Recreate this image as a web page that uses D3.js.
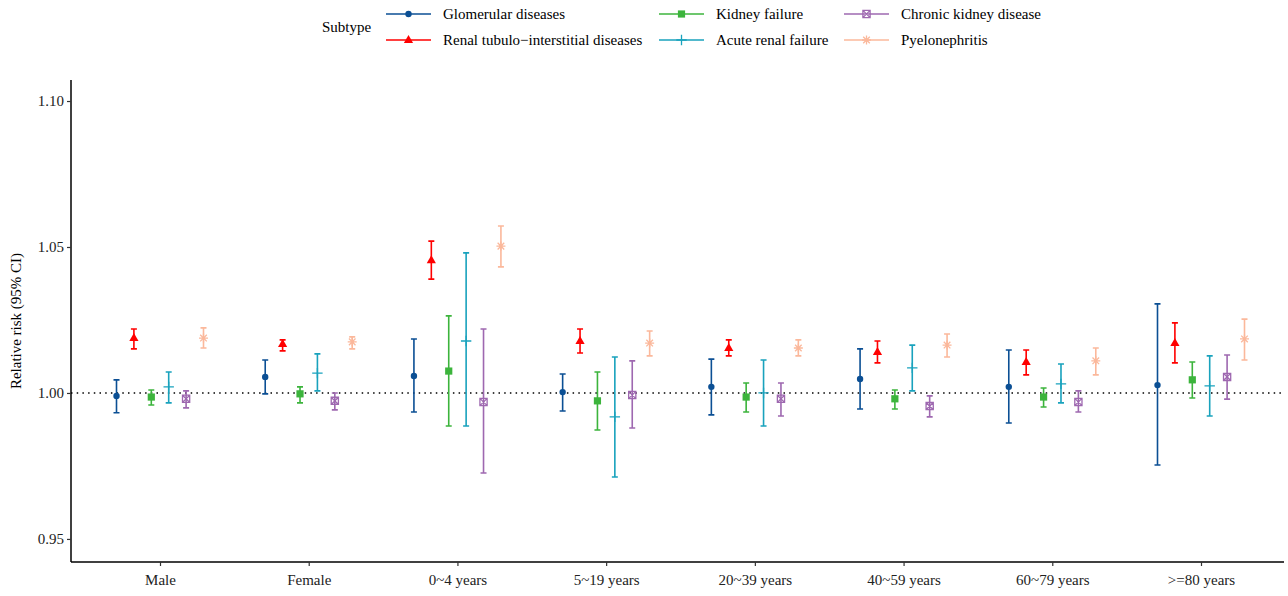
<!DOCTYPE html>
<html>
<head>
<meta charset="utf-8">
<script src="https://cdn.jsdelivr.net/npm/d3@7"></script>
<style>
  body { margin: 0; background: #fff; }
  text { font-family: "Liberation Serif", "Times New Roman", serif; fill: #000; }
</style>
</head>
<body>
<svg id="chart" width="1288" height="596"></svg>
<script>
// categories on the x axis
const categories = ['Male', 'Female', '0~4 years', '5~19 years', '20~39 years', '40~59 years', '60~79 years', '>=80 years'];

// subtypes (legend order = dodge order)
const subtypes = ['Glomerular diseases', 'Renal tubulo\u2212interstitial diseases', 'Kidney failure',
                  'Acute renal failure', 'Chronic kidney disease', 'Pyelonephritis'];

// [estimate, lower, upper] per category
const glomerular = [[0.9990, 0.9932, 1.0045], [1.0055, 0.9997, 1.0113], [1.0058, 0.9935, 1.0185], [1.0003, 0.9938, 1.0065],
                    [1.0021, 0.9925, 1.0116], [1.0048, 0.9945, 1.0151], [1.0021, 0.9897, 1.0147], [1.0027, 0.9753, 1.0305]];
const tubulo     = [[1.0188, 1.0151, 1.0219], [1.0168, 1.0144, 1.0182], [1.0455, 1.0390, 1.0520], [1.0178, 1.0137, 1.0219],
                    [1.0154, 1.0127, 1.0182], [1.0140, 1.0103, 1.0178], [1.0106, 1.0062, 1.0147], [1.0171, 1.0103, 1.0240]];
const kidneyFail = [[0.9986, 0.9959, 1.0010], [0.9997, 0.9966, 1.0021], [1.0075, 0.9887, 1.0264], [0.9973, 0.9873, 1.0072],
                    [0.9986, 0.9935, 1.0034], [0.9980, 0.9945, 1.0010], [0.9986, 0.9952, 1.0017], [1.0045, 0.9983, 1.0106]];
const acuteFail  = [[1.0021, 0.9966, 1.0072], [1.0068, 1.0007, 1.0134], [1.0178, 0.9887, 1.0480], [0.9918, 0.9712, 1.0123],
                    [1.0000, 0.9887, 1.0113], [1.0086, 1.0007, 1.0164], [1.0031, 0.9966, 1.0099], [1.0024, 0.9921, 1.0127]];
const chronic    = [[0.9980, 0.9949, 1.0007], [0.9973, 0.9942, 1.0000], [0.9969, 0.9726, 1.0219], [0.9993, 0.9880, 1.0110],
                    [0.9980, 0.9921, 1.0034], [0.9955, 0.9918, 0.9990], [0.9969, 0.9935, 1.0007], [1.0055, 0.9979, 1.0130]];
const pyelo      = [[1.0188, 1.0154, 1.0223], [1.0175, 1.0151, 1.0192], [1.0503, 1.0432, 1.0572], [1.0171, 1.0127, 1.0212],
                    [1.0154, 1.0127, 1.0182], [1.0164, 1.0123, 1.0202], [1.0110, 1.0062, 1.0154], [1.0185, 1.0113, 1.0253]];

const yTicks = [0.95, 1.00, 1.05, 1.10];

const seriesValues = [glomerular, tubulo, kidneyFail, acuteFail, chronic, pyelo];
const colors = ['#0b4f94', '#ff0000', '#3cb43c', '#19a2bd', '#9e68b0', '#fbb89b'];
const shapes = ['circle', 'triangle', 'square', 'plus', 'squarecross', 'asterisk'];

// flatten into rows for drawing
const rows = [];
seriesValues.forEach((vals, s) => {
    vals.forEach((v, c) => rows.push({ s, cat: categories[c], est: v[0], lo: v[1], hi: v[2] }));
});

const svg = d3.select('#chart');
const panel = { left: 71, right: 1284, top: 80, bottom: 562 };
const fontSize = 15;

const x = d3.scalePoint().domain(categories).range([160, 1201]);
const dodge = d3.scalePoint().domain(d3.range(subtypes.length)).range([-43.5, 43.5]);
const y = d3.scaleLinear().domain([0.9421, 1.1072]).range([panel.bottom, panel.top]);

// reference line at 1
svg.append('line')
    .attr('x1', panel.left).attr('x2', panel.right)
    .attr('y1', y(1)).attr('y2', y(1))
    .attr('stroke', '#000').attr('stroke-width', 1.4)
    .attr('stroke-dasharray', '1.5,4.2');

// marker paths
function markerPath(shape) {
    switch (shape) {
        case 'triangle': return 'M0,-5L4.6,3L-4.6,3Z';
        case 'square': return 'M-3.6,-3.6H3.6V3.6H-3.6Z';
        case 'plus': return 'M-5.2,0H5.2M0,-5.2V5.2';
        case 'squarecross': return 'M-3.6,-3.6H3.6V3.6H-3.6ZM-3.6,-3.6L3.6,3.6M3.6,-3.6L-3.6,3.6';
        case 'asterisk': return 'M-4.5,0H4.5M0,-4.5V4.5M-3.3,-3.3L3.3,3.3M3.3,-3.3L-3.3,3.3';
        default: return null;
    }
}

function drawMarker(g, s) {
    const col = colors[s];
    if (shapes[s] === 'circle') {
        g.append('circle').attr('r', 3.2).attr('fill', col);
    } else if (shapes[s] === 'triangle' || shapes[s] === 'square') {
        g.append('path').attr('d', markerPath(shapes[s])).attr('fill', col);
    } else {
        g.append('path').attr('d', markerPath(shapes[s]))
            .attr('fill', 'none').attr('stroke', col).attr('stroke-width', 1.3);
    }
}

// error bars + points
const cap = 3;
const marks = svg.append('g').selectAll('g.mark')
    .data(rows).enter()
    .append('g').attr('class', 'mark')
    .attr('transform', d => `translate(${x(d.cat) + dodge(d.s)},0)`);

marks.append('path')
    .attr('d', d => `M0,${y(d.lo)}V${y(d.hi)}M${-cap},${y(d.lo)}H${cap}M${-cap},${y(d.hi)}H${cap}`)
    .attr('stroke', d => colors[d.s]).attr('stroke-width', 1.6).attr('fill', 'none');

marks.each(function (d) {
    const g = d3.select(this).append('g').attr('transform', `translate(0,${y(d.est)})`);
    drawMarker(g, d.s);
});

// axes
const yAxis = svg.append('g')
    .attr('transform', `translate(${panel.left},0)`)
    .call(d3.axisLeft(y).tickValues(yTicks).tickFormat(d3.format('.2f')).tickSizeOuter(0).tickSize(4));
yAxis.select('.domain').attr('d', `M0,${panel.top}V${panel.bottom}`);

const xAxis = svg.append('g')
    .attr('transform', `translate(0,${panel.bottom})`)
    .call(d3.axisBottom(x).tickSizeOuter(0).tickSize(4));
xAxis.select('.domain').attr('d', `M${panel.left},0H${panel.right}`);

svg.selectAll('.domain').attr('stroke', '#000').attr('stroke-width', 1.5);
svg.selectAll('.tick line').attr('stroke', '#333').attr('stroke-width', 1.2);
yAxis.selectAll('.tick text').attr('font-size', fontSize).attr('x', -7).style('fill', '#222');
xAxis.selectAll('.tick text').attr('font-size', fontSize).attr('y', 12).style('fill', '#222');

// y title
svg.append('text')
    .attr('transform', `translate(21,${(panel.top + panel.bottom) / 2}) rotate(-90)`)
    .attr('text-anchor', 'middle').attr('font-size', fontSize)
    .text('Relative risk (95% CI)');

// legend
const legend = svg.append('g');
legend.append('text').attr('x', 322).attr('y', 32).attr('font-size', fontSize).text('Subtype');
const colX = [386, 659, 844];
const rowY = [14, 40];
subtypes.forEach((name, i) => {
    const cx = colX[Math.floor(i / 2)];
    const cy = rowY[i % 2];
    const g = legend.append('g').attr('transform', `translate(${cx},${cy})`);
    g.append('line').attr('x1', 0).attr('x2', 45).attr('stroke', colors[i]).attr('stroke-width', 1.6);
    drawMarker(g.append('g').attr('transform', 'translate(22.5,0)'), i);
    g.append('text').attr('x', 57).attr('y', 5).attr('font-size', fontSize).text(name);
});
</script>
</body>
</html>
